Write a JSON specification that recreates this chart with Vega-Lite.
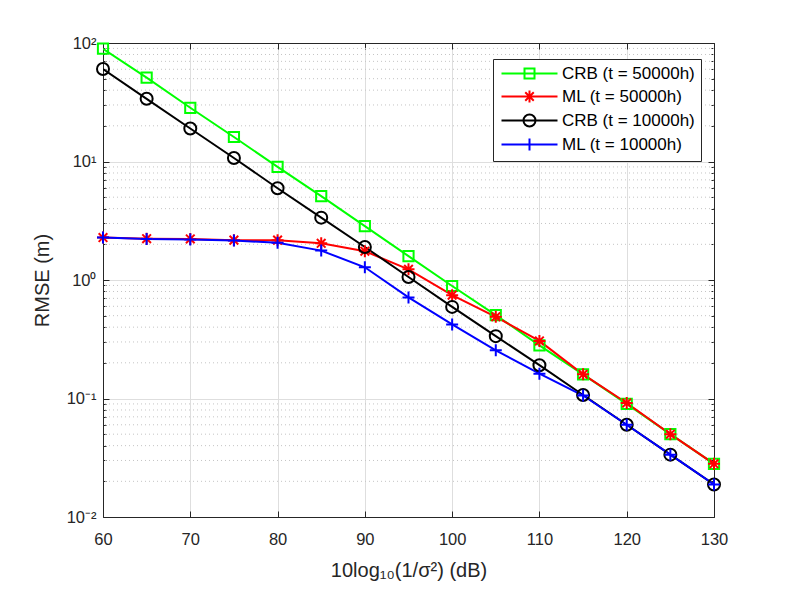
{
  "$schema": "https://vega.github.io/schema/vega-lite/v6.json",
  "width": 611,
  "height": 474,
  "autosize": {"type": "none"},
  "padding": {"left": 103, "top": 43, "right": 75, "bottom": 75},
  "config": {
    "view": {"stroke": null},
    "font": "Liberation Sans",
    "axis": {
      "domainColor": "#262626",
      "domainWidth": 1,
      "tickColor": "#262626",
      "labelColor": "#262626",
      "titleColor": "#262626",
      "labelFont": "Liberation Sans",
      "titleFont": "Liberation Sans",
      "labelFontSize": 16.5,
      "titleFontSize": 20,
      "titleFontWeight": "normal",
      "gridColor": "#dedede",
      "gridWidth": 1,
      "tickSize": -6,
      "labelFlush": false
    }
  },
  "datasets": {
    "minor": [
      {"v": 0.02}, {"v": 0.03}, {"v": 0.04}, {"v": 0.05}, {"v": 0.06}, {"v": 0.07}, {"v": 0.08}, {"v": 0.09},
      {"v": 0.2}, {"v": 0.3}, {"v": 0.4}, {"v": 0.5}, {"v": 0.6}, {"v": 0.7}, {"v": 0.8}, {"v": 0.9},
      {"v": 2}, {"v": 3}, {"v": 4}, {"v": 5}, {"v": 6}, {"v": 7}, {"v": 8}, {"v": 9},
      {"v": 20}, {"v": 30}, {"v": 40}, {"v": 50}, {"v": 60}, {"v": 70}, {"v": 80}, {"v": 90}
    ],
    "main": [
      {"x": 60, "series": "CRB (t = 50000h)", "rmse": 89.5},
      {"x": 65, "series": "CRB (t = 50000h)", "rmse": 51},
      {"x": 70, "series": "CRB (t = 50000h)", "rmse": 28.4},
      {"x": 75, "series": "CRB (t = 50000h)", "rmse": 16.1},
      {"x": 80, "series": "CRB (t = 50000h)", "rmse": 9.0},
      {"x": 85, "series": "CRB (t = 50000h)", "rmse": 5.1},
      {"x": 90, "series": "CRB (t = 50000h)", "rmse": 2.85},
      {"x": 95, "series": "CRB (t = 50000h)", "rmse": 1.59},
      {"x": 100, "series": "CRB (t = 50000h)", "rmse": 0.89},
      {"x": 105, "series": "CRB (t = 50000h)", "rmse": 0.505},
      {"x": 110, "series": "CRB (t = 50000h)", "rmse": 0.281},
      {"x": 115, "series": "CRB (t = 50000h)", "rmse": 0.16},
      {"x": 120, "series": "CRB (t = 50000h)", "rmse": 0.09},
      {"x": 125, "series": "CRB (t = 50000h)", "rmse": 0.05},
      {"x": 130, "series": "CRB (t = 50000h)", "rmse": 0.0281},
      {"x": 60, "series": "ML (t = 50000h)", "rmse": 2.28},
      {"x": 65, "series": "ML (t = 50000h)", "rmse": 2.23},
      {"x": 70, "series": "ML (t = 50000h)", "rmse": 2.22},
      {"x": 75, "series": "ML (t = 50000h)", "rmse": 2.17},
      {"x": 80, "series": "ML (t = 50000h)", "rmse": 2.17},
      {"x": 85, "series": "ML (t = 50000h)", "rmse": 2.04},
      {"x": 90, "series": "ML (t = 50000h)", "rmse": 1.75},
      {"x": 95, "series": "ML (t = 50000h)", "rmse": 1.23},
      {"x": 100, "series": "ML (t = 50000h)", "rmse": 0.745},
      {"x": 105, "series": "ML (t = 50000h)", "rmse": 0.489},
      {"x": 110, "series": "ML (t = 50000h)", "rmse": 0.306},
      {"x": 115, "series": "ML (t = 50000h)", "rmse": 0.16},
      {"x": 120, "series": "ML (t = 50000h)", "rmse": 0.0916},
      {"x": 125, "series": "ML (t = 50000h)", "rmse": 0.05},
      {"x": 130, "series": "ML (t = 50000h)", "rmse": 0.0281},
      {"x": 60, "series": "CRB (t = 10000h)", "rmse": 60.3},
      {"x": 65, "series": "CRB (t = 10000h)", "rmse": 33.8},
      {"x": 70, "series": "CRB (t = 10000h)", "rmse": 19.0},
      {"x": 75, "series": "CRB (t = 10000h)", "rmse": 10.7},
      {"x": 80, "series": "CRB (t = 10000h)", "rmse": 5.95},
      {"x": 85, "series": "CRB (t = 10000h)", "rmse": 3.36},
      {"x": 90, "series": "CRB (t = 10000h)", "rmse": 1.9},
      {"x": 95, "series": "CRB (t = 10000h)", "rmse": 1.06},
      {"x": 100, "series": "CRB (t = 10000h)", "rmse": 0.593},
      {"x": 105, "series": "CRB (t = 10000h)", "rmse": 0.336},
      {"x": 110, "series": "CRB (t = 10000h)", "rmse": 0.191},
      {"x": 115, "series": "CRB (t = 10000h)", "rmse": 0.107},
      {"x": 120, "series": "CRB (t = 10000h)", "rmse": 0.06},
      {"x": 125, "series": "CRB (t = 10000h)", "rmse": 0.0336},
      {"x": 130, "series": "CRB (t = 10000h)", "rmse": 0.0188},
      {"x": 60, "series": "ML (t = 10000h)", "rmse": 2.28},
      {"x": 65, "series": "ML (t = 10000h)", "rmse": 2.22},
      {"x": 70, "series": "ML (t = 10000h)", "rmse": 2.2},
      {"x": 75, "series": "ML (t = 10000h)", "rmse": 2.15},
      {"x": 80, "series": "ML (t = 10000h)", "rmse": 2.06},
      {"x": 85, "series": "ML (t = 10000h)", "rmse": 1.77},
      {"x": 90, "series": "ML (t = 10000h)", "rmse": 1.28},
      {"x": 95, "series": "ML (t = 10000h)", "rmse": 0.713},
      {"x": 100, "series": "ML (t = 10000h)", "rmse": 0.422},
      {"x": 105, "series": "ML (t = 10000h)", "rmse": 0.255},
      {"x": 110, "series": "ML (t = 10000h)", "rmse": 0.162},
      {"x": 115, "series": "ML (t = 10000h)", "rmse": 0.106},
      {"x": 120, "series": "ML (t = 10000h)", "rmse": 0.06},
      {"x": 125, "series": "ML (t = 10000h)", "rmse": 0.0336},
      {"x": 130, "series": "ML (t = 10000h)", "rmse": 0.0188}
    ]
  },
  "layer": [
    {
      "data": {"name": "minor"},
      "mark": {"type": "rule", "color": "#c4c4c4", "strokeWidth": 1, "strokeDash": [1, 3]},
      "encoding": {
        "y": {
          "field": "v", "type": "quantitative",
          "scale": {"type": "log", "domain": [0.01, 100]},
          "axis": {"orient": "left", "values": [0.02, 0.03, 0.04, 0.05, 0.06, 0.07, 0.08, 0.09, 0.2, 0.3, 0.4, 0.5, 0.6, 0.7, 0.8, 0.9, 2, 3, 4, 5, 6, 7, 8, 9, 20, 30, 40, 50, 60, 70, 80, 90], "labels": false, "grid": false, "domain": false, "tickSize": -3, "title": null}
        }
      }
    },
    {
      "data": {"name": "main"},
      "mark": {"type": "line", "strokeWidth": 2, "clip": true},
      "encoding": {
        "x": {
          "field": "x", "type": "quantitative",
          "scale": {"domain": [60, 130], "nice": false},
          "axis": {
            "orient": "bottom",
            "values": [60, 70, 80, 90, 100, 110, 120, 130],
            "grid": true,
            "labelPadding": 20,
            "title": "10log₁₀(1/σ²) (dB)",
            "titlePadding": 13
          }
        },
        "y": {
          "field": "rmse", "type": "quantitative",
          "scale": {"type": "log", "domain": [0.01, 100]},
          "axis": {
            "orient": "left",
            "values": [0.01, 0.1, 1, 10, 100],
            "grid": true,
            "labelPadding": 13,
            "labelExpr": "datum.value >= 50 ? '10²' : datum.value >= 5 ? '10¹' : datum.value >= 0.5 ? '10⁰' : datum.value >= 0.05 ? '10⁻¹' : '10⁻²'",
            "title": "RMSE (m)",
            "titlePadding": 14
          }
        },
        "stroke": {
          "field": "series", "type": "nominal",
          "scale": {
            "domain": ["CRB (t = 50000h)", "ML (t = 50000h)", "CRB (t = 10000h)", "ML (t = 10000h)"],
            "range": ["#00ff00", "#ff0000", "#000000", "#0000ff"]
          },
          "legend": {
            "title": null,
            "orient": "none",
            "legendX": 390,
            "legendY": 16,
            "fillColor": "#ffffff",
            "strokeColor": "#262626",
            "padding": 6,
            "labelFont": "Liberation Sans",
            "labelFontSize": 17,
            "labelColor": "#000000",
            "symbolSize": 100,
            "symbolStrokeWidth": 2,
            "symbolOffset": 22,
            "labelOffset": 24,
            "rowPadding": 3,
            "encode": {
              "symbols": {
                "update": {
                  "shape": {"signal": "datum.value == 'CRB (t = 50000h)' ? 'M-5.6,0H5.6M-1,-1H1V1H-1Z' : datum.value == 'ML (t = 50000h)' ? 'M-5.6,0H5.6M0,-1.2V1.2M-0.85,-0.85L0.85,0.85M-0.85,0.85L0.85,-0.85M-1.2,0H1.2' : datum.value == 'CRB (t = 10000h)' ? 'M-5.6,0H5.6M1.2,0A1.2,1.2,0,1,1,-1.2,0A1.2,1.2,0,1,1,1.2,0Z' : 'M-5.6,0H5.6M0,-1.2V1.2'"},
                  "fill": {"value": "transparent"},
                  "strokeWidth": {"value": 2}
                }
              }
            }
          }
        },
        "detail": {"field": "series"}
      }
    },
    {
      "data": {"name": "main"},
      "transform": [{"filter": "datum.series == 'CRB (t = 50000h)'"}],
      "mark": {"type": "point", "filled": false, "strokeWidth": 2, "size": 144, "opacity": 1, "color": "#00ff00", "shape": "M-0.85,-0.85H0.85V0.85H-0.85Z"},
      "encoding": {
        "x": {
          "field": "x", "type": "quantitative",
          "axis": {"orient": "top", "values": [60, 70, 80, 90, 100, 110, 120, 130], "labels": false, "grid": false, "title": null}
        },
        "y": {
          "field": "rmse", "type": "quantitative",
          "axis": {"orient": "right", "values": [0.01, 0.1, 1, 10, 100], "labels": false, "grid": false, "title": null}
        }
      }
    },
    {
      "data": {"name": "main"},
      "transform": [{"filter": "datum.series == 'ML (t = 50000h)'"}],
      "mark": {"type": "point", "filled": false, "strokeWidth": 2, "size": 144, "opacity": 1, "color": "#ff0000", "shape": "M-1,0H1M0,-1V1M-0.72,-0.72L0.72,0.72M-0.72,0.72L0.72,-0.72"},
      "encoding": {
        "x": {"field": "x", "type": "quantitative", "axis": null},
        "y": {
          "field": "rmse", "type": "quantitative",
          "axis": {"orient": "right", "values": [0.02, 0.03, 0.04, 0.05, 0.06, 0.07, 0.08, 0.09, 0.2, 0.3, 0.4, 0.5, 0.6, 0.7, 0.8, 0.9, 2, 3, 4, 5, 6, 7, 8, 9, 20, 30, 40, 50, 60, 70, 80, 90], "labels": false, "grid": false, "domain": false, "tickSize": -3, "title": null}
        }
      }
    },
    {
      "data": {"name": "main"},
      "transform": [{"filter": "datum.series == 'CRB (t = 10000h)'"}],
      "mark": {"type": "point", "filled": false, "strokeWidth": 2, "size": 144, "opacity": 1, "color": "#000000", "shape": "circle"},
      "encoding": {
        "x": {"field": "x", "type": "quantitative", "axis": null},
        "y": {"field": "rmse", "type": "quantitative", "axis": null}
      }
    },
    {
      "data": {"name": "main"},
      "transform": [{"filter": "datum.series == 'ML (t = 10000h)'"}],
      "mark": {"type": "point", "filled": false, "strokeWidth": 2, "size": 144, "opacity": 1, "color": "#0000ff", "shape": "M-1,0H1M0,-1V1"},
      "encoding": {
        "x": {"field": "x", "type": "quantitative", "axis": null},
        "y": {"field": "rmse", "type": "quantitative", "axis": null}
      }
    }
  ],
  "resolve": {"axis": {"x": "independent", "y": "independent"}}
}
